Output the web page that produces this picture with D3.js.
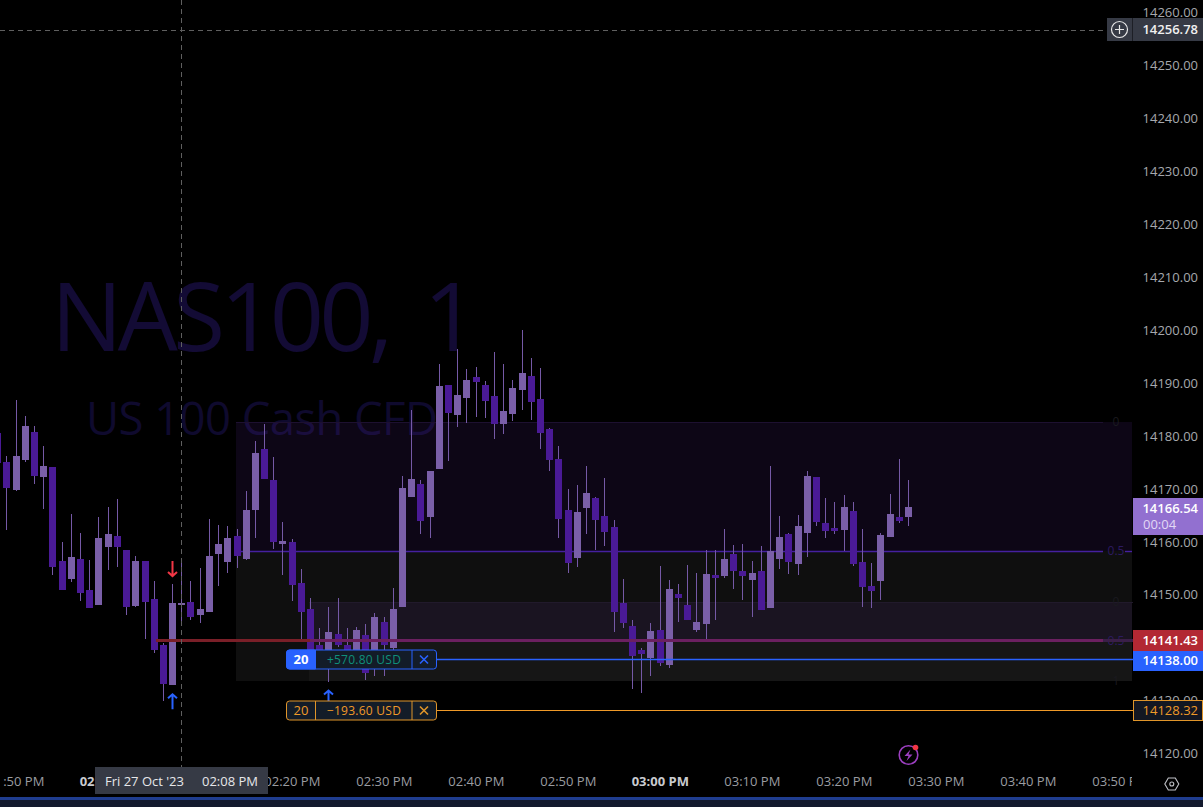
<!DOCTYPE html>
<html>
<head>
<meta charset="utf-8">
<script src="https://cdn.jsdelivr.net/npm/d3@7/dist/d3.min.js"></script>
<style>
html,body{margin:0;padding:0;background:#000;overflow:hidden}
svg{display:block;font-family:"Open Sans","Noto Sans",sans-serif}
</style>
</head>
<body>
<svg id="c" width="1203" height="807"></svg>
<script>
// ---- data (prices) ----
const firstMinute = 108; // 01:48 PM, minutes after 12:00
const opens = [14180.6,14175.2,14169.9,14175.5,14180.8,14172.3,14174.2,14156.5,14153.1,14156.8,14151.0,14148.2,14159.1,14161.2,14158.5,14148.0,14156.5,14149.3,14140.6,14133.0,
14148.2,14148.7,14146.3,14146.8,14157.8,14156.3,14161.2,14156.8,14166.1,14177.6,14171.8,14159.7,14160.0,14152.3,14147.4,14140.6,14137.1,14142.7,14140.6,14137.8,
14142.5,14138.4,14144.9,14140.0,14147.8,14168.5,14171.0,14164.8,14173.8,14189.7,14184.0,14187.2,14191.2,14189.7,14187.6,14182.3,14184.2,14188.8,14191.4,14187.1,
14181.4,14175.7,14166.1,14157.0,14166.5,14168.4,14165.0,14162.9,14148.5,14144.2,14139.7,14138.1,14143.4,14136.8,14150.2,14148.2,14143.4,14144.6,14153.8,14153.6,
14157.8,14154.6,14152.9,14154.6,14147.6,14156.8,14161.6,14155.9,14161.8,14172.3,14163.6,14162.7,14162.3,14165.9,14156.3,14151.7,14152.7,14161.0,14164.8,14164.8];
const highs = [14182.0,14176.2,14186.9,14183.8,14182.0,14178.2,14174.2,14160.0,14165.3,14161.7,14156.6,14164.8,14166.7,14168.2,14158.5,14157.4,14156.5,14152.7,14141.0,14152.1,
14156.1,14152.7,14155.1,14164.4,14163.3,14163.1,14162.5,14169.7,14179.1,14182.3,14176.1,14163.8,14160.6,14154.9,14149.5,14143.8,14147.8,14149.5,14143.8,14144.0,
14144.6,14146.6,14145.9,14151.4,14172.5,14185.0,14171.8,14173.5,14193.7,14189.7,14196.5,14192.7,14193.1,14190.5,14195.9,14193.7,14190.6,14200.1,14194.8,14192.9,
14181.6,14178.2,14170.1,14170.8,14174.4,14168.6,14172.1,14164.2,14153.1,14145.3,14140.0,14144.8,14155.5,14152.9,14152.1,14155.7,14154.2,14158.5,14158.5,14162.5,
14159.5,14159.7,14156.5,14159.3,14174.4,14165.0,14161.8,14165.2,14173.5,14172.3,14168.4,14167.6,14168.9,14167.6,14162.5,14156.1,14161.8,14169.1,14175.7,14171.8];
const lows = [14172.0,14162.3,14169.7,14175.2,14171.0,14166.3,14153.8,14151.0,14152.5,14148.9,14147.6,14148.2,14154.8,14155.3,14146.3,14147.8,14141.7,14139.1,14130.0,14133.0,
14144.5,14145.3,14144.8,14146.8,14151.7,14154.2,14155.1,14156.6,14160.8,14171.9,14158.7,14153.8,14148.9,14141.5,14136.2,14136.0,14133.7,14140.3,14137.1,14137.1,
14133.9,14134.8,14134.8,14139.7,14147.8,14168.5,14161.6,14160.8,14173.8,14175.3,14181.8,14182.5,14183.7,14183.5,14179.5,14180.4,14182.9,14185.0,14183.1,14177.6,
14173.5,14160.8,14154.2,14155.3,14161.6,14158.5,14159.3,14143.1,14143.8,14132.3,14131.5,14134.7,14136.6,14136.3,14144.9,14145.3,14143.1,14141.7,14145.3,14153.3,
14151.2,14149.1,14145.9,14147.2,14147.6,14155.0,14154.0,14153.8,14157.2,14163.1,14160.8,14161.6,14158.4,14155.5,14147.8,14147.6,14149.1,14161.0,14163.6,14163.1];
const closes = [14174.9,14170.2,14176.3,14182.0,14172.5,14174.4,14155.3,14151.0,14157.2,14150.4,14147.6,14160.8,14161.6,14159.1,14147.8,14156.5,14148.7,14139.7,14133.2,14148.5,
14148.5,14145.9,14147.4,14157.4,14159.7,14160.8,14157.4,14166.1,14176.9,14171.9,14160.0,14160.2,14151.9,14146.8,14139.7,14137.1,14143.1,14140.6,14138.7,14143.4,
14135.3,14145.9,14140.6,14147.4,14170.2,14171.9,14164.0,14173.5,14189.5,14184.4,14187.8,14190.6,14190.3,14186.7,14182.3,14184.8,14189.1,14192.0,14186.5,14180.6,
14175.5,14164.4,14156.1,14165.7,14169.3,14164.2,14161.9,14146.8,14144.8,14138.5,14138.9,14143.2,14137.2,14151.2,14149.5,14145.3,14144.9,14154.0,14153.3,14156.8,
14154.6,14153.6,14154.2,14147.2,14158.4,14161.0,14156.3,14163.1,14172.5,14163.8,14162.1,14162.1,14166.7,14155.9,14151.6,14150.8,14161.4,14165.3,14164.0,14166.7];

const priceTicks = [14260,14250,14240,14230,14220,14210,14200,14190,14180,14170,14160,14150,14140,14130,14120];
const timeTicks  = [110,120,130,140,150,160,170,180,190,200,210,220,230];
const timeLabels = ["01:50 PM","02:00 PM","02:10 PM","02:20 PM","02:30 PM","02:40 PM","02:50 PM","03:00 PM","03:10 PM","03:20 PM","03:30 PM","03:40 PM","03:50 PM"];
const boldTimes  = [120,180];

const crossMinute = 128, crossPrice = 14256.78, crossText = "14256.78";
const lastPrice = 14166.54, countdown = "00:04";
const lineStartMinute = 125;
const avgPrice = 14141.43;
const tpPrice = 14138.00, slPrice = 14128.32;
const orderQty = "20", tpText = "+570.80 USD", slText = "\u2212193.60 USD";

// fib zones
const fibTop = 14182.7, fibMid = 14158.4, fibLow = 14133.8, fib2Top = 14148.7;
const fibStart = 134, fib2Start = 142;
const fibLabels = ["0","0.5","0","0.5","1"];
const fibLabelPrices = [fibTop,fibMid,fib2Top,avgPrice,fibLow];

// trade markers: candle minute, direction
const markMinutes = [127,127,144];
const markDirs = ["sell","buy","buy"];

// ---- scales ----
const x = d3.scaleLinear().domain([128,207]).range([180.8,907.6]);
const y = d3.scaleLinear().domain([14170,14260]).range([489.3,12.75]);
const px = m => Math.ceil(x(m));
const py = p => Math.round(y(p));

const RIGHT = 1133;
const svg = d3.select("#c");
const defs = svg.append("defs");
defs.append("clipPath").attr("id","pane").append("rect").attr("x",0).attr("y",0).attr("width",RIGHT).attr("height",767);
defs.append("clipPath").attr("id","tx").append("rect").attr("x",2).attr("y",767).attr("width",1130).attr("height",30);

svg.append("rect").attr("width",1203).attr("height",807).attr("fill","#000");

// watermark
svg.append("text").text("NAS100, 1").attr("x",51).attr("y",351).attr("font-size",95)
  .attr("letter-spacing",-4.8).attr("word-spacing",15).attr("fill","#130b35");
svg.append("text").text("US 100 Cash CFD").attr("x",86).attr("y",435).attr("font-size",45.5)
  .attr("textLength",352).attr("lengthAdjust","spacing").attr("fill","#0f0a2e");

const pane = svg.append("g").attr("clip-path","url(#pane)");

// fib zones
const fibEndX = RIGHT-1;
function zone(m,p0,p1,fill){
  pane.append("rect").attr("x",px(m)-1).attr("width",fibEndX-px(m)+1)
    .attr("y",py(p0)).attr("height",py(p1)-py(p0)).attr("fill",fill);
}
zone(fibStart,fibTop,fibMid,"rgba(110,50,190,0.115)");
zone(fibStart,fibMid,fibLow,"rgba(255,255,255,0.06)");
zone(fib2Start,fib2Top,avgPrice,"rgba(130,70,200,0.10)");
zone(fib2Start,avgPrice,fibLow,"rgba(255,255,255,0.03)");
// fib lines
const hline = (a,b,p,c,w)=>pane.append("line").attr("x1",a).attr("x2",b).attr("y1",py(p)+.5).attr("y2",py(p)+.5).attr("stroke",c).attr("stroke-width",w||1);
hline(px(fibStart)-1,1103,fibTop,"#1d1030");
hline(px(fibStart)-1,1103,fibMid,"#45209f",1.4);
hline(1125,1132,fibMid,"#45209f",1.4);
hline(px(fib2Start)-1,RIGHT,fib2Top,"#211a2b");
pane.selectAll(".fl").data(fibLabels).join("text").attr("class","fl")
  .attr("x",1116).attr("y",(d,i)=>y(fibLabelPrices[i])).attr("dy","0.35em").attr("text-anchor","middle").attr("font-size",12)
  .attr("fill",d=>d==="0.5"?"#2c1a60":"#1a1a1f").text(d=>d);

// candles
const idx = d3.range(closes.length);
const minuteOf = i => firstMinute + i;
const isUp = i => closes[i] >= opens[i];
const UP = "#7a5fa8", DOWN = "#4a1a96", WICK = "#7559a6";
const candle = pane.append("g").attr("shape-rendering","crispEdges");
candle.selectAll(".w").data(idx).join("rect").attr("class","w")
  .attr("x",i=>px(minuteOf(i))).attr("width",1)
  .attr("y",i=>py(highs[i])).attr("height",i=>Math.max(1,py(lows[i])-py(highs[i])))
  .attr("fill",WICK);
candle.selectAll(".b").data(idx).join("rect").attr("class","b")
  .attr("x",i=>px(minuteOf(i))-3).attr("width",7)
  .attr("y",i=>py(Math.max(opens[i],closes[i])))
  .attr("height",i=>Math.max(2,py(Math.min(opens[i],closes[i]))-py(Math.max(opens[i],closes[i]))))
  .attr("fill",i=>isUp(i)?UP:DOWN);

// average price line
const avgY = Math.round(y(avgPrice));
pane.append("rect").attr("x",px(lineStartMinute)+2).attr("width",px(fib2Start)-px(lineStartMinute)-2).attr("y",avgY-2).attr("height",3).attr("fill","#7a1f28");
pane.append("rect").attr("x",px(fib2Start)).attr("width",1103-px(fib2Start)).attr("y",avgY-2).attr("height",3).attr("fill","#6b2060");
pane.append("rect").attr("x",1103).attr("width",30).attr("y",avgY-2).attr("height",3).attr("fill","#3a1f48");

// order lines
const tpY = py(tpPrice)+.5, slY = py(slPrice)+.5;
svg.append("line").attr("x1",437).attr("x2",RIGHT).attr("y1",tpY).attr("y2",tpY).attr("stroke","#2962ff").attr("stroke-width",1.4);
svg.append("line").attr("x1",437).attr("x2",RIGHT).attr("y1",slY).attr("y2",slY).attr("stroke","#f09a28");

// trade arrows
function arrow(m,dir){
  const cx = px(m)+.5, i = m-firstMinute;
  const col = dir==="buy"?"#2962ff":"#f23645";
  const g = pane.append("g").attr("fill","none").attr("stroke",col).attr("stroke-width",2);
  if(dir==="buy"){
    const t = y(lows[i])+8;
    g.append("path").attr("d",`M${cx},${t+1}V${t+16}M${cx-4.5},${t+5}L${cx},${t+1}L${cx+4.5},${t+5}`);
  }else{
    const b = y(highs[i])-7;
    g.append("path").attr("d",`M${cx},${b-1}V${b-16}M${cx-4.5},${b-5}L${cx},${b-1}L${cx+4.5},${b-5}`);
  }
}
markMinutes.forEach((m,i)=>arrow(m,markDirs[i]));

// crosshair
const chY = py(crossPrice)+.5, chX = px(crossMinute)+.5;
pane.append("line").attr("x1",chX).attr("x2",chX).attr("y1",0).attr("y2",767).attr("stroke","#5f5f5f").attr("stroke-dasharray","5 4");
pane.append("line").attr("x1",0).attr("x2",1107).attr("y1",chY).attr("y2",chY).attr("stroke","#5f5f5f").attr("stroke-dasharray","5 4");

// price axis
const yAxis = d3.axisRight(y).tickValues(priceTicks).tickFormat(d=>d.toFixed(2)).tickSize(0).tickPadding(0);
const ya = svg.append("g").attr("transform","translate(1198,0)").call(yAxis);
ya.select(".domain").remove();
ya.selectAll("text").attr("x",0).attr("dy","0.29em").attr("text-anchor","end")
  .attr("fill","#a6a8ad").attr("font-size",13).attr("font-family",'"Open Sans","Noto Sans",sans-serif');

// time axis
const xAxis = d3.axisBottom(x).tickValues(timeTicks).tickFormat((d,i)=>timeLabels[i]).tickSize(0).tickPadding(0);
const xw = svg.append("g").attr("clip-path","url(#tx)");
const xa = xw.append("g").attr("transform","translate(0.6,782)").call(xAxis);
xa.select(".domain").remove();
xa.selectAll("text").attr("y",0).attr("dy","0.33em").attr("fill",d=>boldTimes.includes(d)?"#c9cbd0":"#9a9ca1")
  .attr("font-weight",d=>boldTimes.includes(d)?700:400).attr("font-size",13).attr("font-family",'"Open Sans","Noto Sans",sans-serif');

// crosshair time label
svg.append("rect").attr("x",95).attr("y",767).attr("width",173).attr("height",27).attr("fill","#363a45");
svg.append("text").text("Fri 27 Oct '23").attr("x",105).attr("y",782).attr("dy","0.33em").attr("font-size",13).attr("font-weight",500).attr("fill","#e6e7ea");
svg.append("text").text("02:08 PM").attr("x",258).attr("y",782).attr("dy","0.33em").attr("text-anchor","end").attr("font-size",13).attr("font-weight",500).attr("fill","#e6e7ea");

// crosshair price label
const chBoxY = Math.round(y(crossPrice))-12;
svg.append("rect").attr("x",1107).attr("y",chBoxY).attr("width",96).attr("height",23).attr("fill","#363a45");
svg.append("line").attr("x1",1132.5).attr("x2",1132.5).attr("y1",chBoxY).attr("y2",chBoxY+23).attr("stroke","#1d1f26");
svg.append("circle").attr("cx",1119.5).attr("cy",chBoxY+11.5).attr("r",8).attr("fill","none").attr("stroke","#e8e8e8").attr("stroke-width",1.2);
svg.append("path").attr("d",`M1115,${chBoxY+11.5}H1124M1119.5,${chBoxY+7}V${chBoxY+16}`).attr("stroke","#e8e8e8").attr("stroke-width",1.2);
svg.append("text").text(crossText).attr("x",1198).attr("y",chBoxY+11.5).attr("dy","0.33em").attr("text-anchor","end").attr("font-size",13).attr("font-weight",600).attr("fill","#f0f0f0");

// last price box
const lastY = Math.round(y(lastPrice));
svg.append("rect").attr("x",1133).attr("y",lastY-10).attr("width",70).attr("height",37).attr("fill","#9270d0");
svg.append("text").text(lastPrice.toFixed(2)).attr("x",1198).attr("y",lastY+1).attr("dy","0.33em").attr("text-anchor","end").attr("font-size",13).attr("font-weight",600).attr("fill","#fff");
svg.append("text").text(countdown).attr("x",1143).attr("y",lastY+17).attr("dy","0.33em").attr("font-size",13).attr("fill","#e2d8f5");

// avg, tp, sl boxes
function box(p,y0,h,fill,stroke,txt){
  svg.append("rect").attr("x",stroke?1133.5:1133).attr("y",stroke?y0+.5:y0).attr("width",stroke?69:70).attr("height",stroke?h-1:h).attr("fill",fill).attr("stroke",stroke||"none");
  svg.append("text").text(p.toFixed(2)).attr("x",1198).attr("y",y0+h/2).attr("dy","0.33em").attr("text-anchor","end").attr("font-size",13).attr("font-weight",stroke?400:600).attr("fill",txt);
}
box(avgPrice,630,21,"#b22833",null,"#fff");
box(tpPrice,651,20,"#2962ff",null,"#fff");
box(slPrice,700,21,"#131722","#e0952a","#f09a28");

// order badges
function badge(cy,col,qtyFill,qtyCol,txt,txtCol){
  const x0=286.5,w=150,h=19,t=cy-9.5;
  svg.append("rect").attr("x",x0).attr("y",t).attr("width",w).attr("height",h).attr("rx",3).attr("fill","#131c28").attr("stroke",col);
  if(qtyFill) svg.append("path").attr("d",`M${x0+29},${t}H${x0+3}a3,3 0 0 0 -3,3V${t+h-3}a3,3 0 0 0 3,3H${x0+29}Z`).attr("fill",qtyFill).attr("stroke",col);
  else svg.append("line").attr("x1",x0+29).attr("x2",x0+29).attr("y1",t).attr("y2",t+h).attr("stroke",col);
  svg.append("line").attr("x1",x0+125.5).attr("x2",x0+125.5).attr("y1",t).attr("y2",t+h).attr("stroke",col);
  svg.append("text").text(orderQty).attr("x",x0+14.5).attr("y",cy).attr("dy","0.35em").attr("text-anchor","middle").attr("font-size",13).attr("font-weight",qtyFill?700:400).attr("fill",qtyCol);
  svg.append("text").text(txt).attr("x",x0+77.5).attr("y",cy).attr("dy","0.35em").attr("text-anchor","middle").attr("font-size",12).attr("letter-spacing",0.25).attr("fill",txtCol);
  const cx=x0+137.5;
  svg.append("path").attr("d",`M${cx-4},${cy-4}L${cx+4},${cy+4}M${cx+4},${cy-4}L${cx-4},${cy+4}`).attr("stroke",col).attr("stroke-width",1.6);
}
badge(tpY,"#2962ff","#2962ff","#fff",tpText,"#0f8f7a");
badge(slY,"#e0952a",null,"#f09a28",slText,"#f09a28");

// lightning icon
svg.append("circle").attr("cx",908.5).attr("cy",755).attr("r",9.3).attr("fill","none").attr("stroke","#9c3fc0").attr("stroke-width",1.6);
svg.append("path").attr("d","M910.5,749.5L904.5,756H908.5L906.5,761L912.5,754.5H908.5Z").attr("fill","#9c3fc0");
svg.append("circle").attr("cx",915.5).attr("cy",747.5).attr("r",2.8).attr("fill","#f23645");

// settings icon
const hex = d3.range(6).map(i=>{const a=Math.PI/3*i; return [1171.8+7*Math.cos(a),784+7*Math.sin(a)];});
svg.append("path").attr("d",d3.line()(hex)+"Z").attr("fill","none").attr("stroke","#c0c2c7").attr("stroke-width",1.1);
svg.append("circle").attr("cx",1171.8).attr("cy",784).attr("r",2).attr("fill","none").attr("stroke","#c0c2c7").attr("stroke-width",1.1);

// bottom strip
svg.append("rect").attr("x",0).attr("y",797).attr("width",1203).attr("height",3).attr("fill","#1f3d8f");
svg.append("rect").attr("x",0).attr("y",800).attr("width",1203).attr("height",7).attr("fill","#131a2e");
</script>
</body>
</html>
